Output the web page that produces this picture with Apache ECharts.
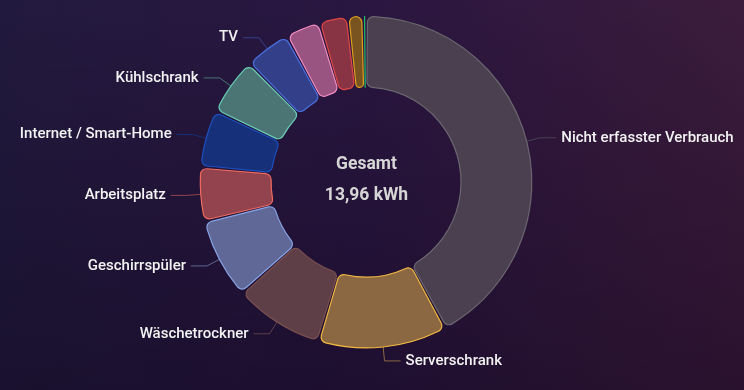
<!DOCTYPE html>
<html>
<head>
<meta charset="utf-8">
<script src="https://cdn.jsdelivr.net/npm/echarts@6/dist/echarts.min.js"></script>
<style>
html,body{margin:0;padding:0;}
#chart{width:744px;height:390px;
background:linear-gradient(to bottom, rgba(0,0,0,0) 0%, rgba(8,0,18,0.35) 100%),
linear-gradient(to right, #221a3e 0%, #2a1640 50%, #3c1c3c 100%);}
</style>
</head>
<body>
<div id="chart"></div>
<script>
const categories = ['Nicht erfasster Verbrauch','Serverschrank','Wäschetrockner','Geschirrspüler','Arbeitsplatz','Internet / Smart-Home','Kühlschrank','TV','Sonstiges 1','Sonstiges 2','Sonstiges 3','Sonstiges 4'];
const values = [5.88, 1.76, 1.22, 1.09, 0.74, 0.78, 0.78, 0.62, 0.47, 0.39, 0.21, 0.02];
const showLabel = [true,true,true,true,true,true,true,true,false,false,false,false];
const fillColors = ['#4a404f','#8c6842','#5e3f47','#5f6896','#92434e','#16307a','#4a7574','#343f8a','#9a5482','#883444','#7a5420','#1a8a58'];
const borderColors = ['#6b6670','#f0b840','#7a5050','#8aa4e6','#f26a60','#1e50c0','#6ad0b8','#4a70e0','#f08cc0','#e04848','#e0a020','#20c070'];
const unit = 'kWh';
const centerTitle = 'Gesamt';

const total = values.reduce((a,b)=>a+b,0);
const totalText = total.toFixed(2).replace('.', ',') + ' ' + unit;

const data = categories.map((c,i)=>({
  name:c, value:values[i],
  itemStyle:{color:fillColors[i], borderColor:borderColors[i]},
  label:{show:showLabel[i]},
  labelLine:{show:showLabel[i]}
}));

const chart = echarts.init(document.getElementById('chart'), null, {renderer:'canvas'});
chart.setOption({
  backgroundColor:'transparent',
  animation:false,
  graphic:[
    {type:'text', x:366.5, y:165, style:{text:centerTitle, fill:'#d6d6d6', fontSize:17.5, fontWeight:'bold', fontFamily:'Roboto', align:'center', verticalAlign:'middle'}},
    {type:'text', x:366.5, y:196, style:{text:totalText, fill:'#d6d6d6', fontSize:17.5, fontWeight:'bold', fontFamily:'Roboto', align:'center', verticalAlign:'middle'}}
  ],
  series:[{
    type:'pie',
    center:['49.2%','46.7%'],
    radius:['48.7%','85%'],
    startAngle:90,
    clockwise:true,
    padAngle:1,
    itemStyle:{borderRadius:6, borderWidth:1.2},
    label:{color:'#f2f2f2', fontSize:15, fontWeight:500, fontFamily:'Roboto'},
    labelLine:{length:14, length2:16, lineStyle:{width:1}},
    data:data
  }]
});
</script>
</body>
</html>
